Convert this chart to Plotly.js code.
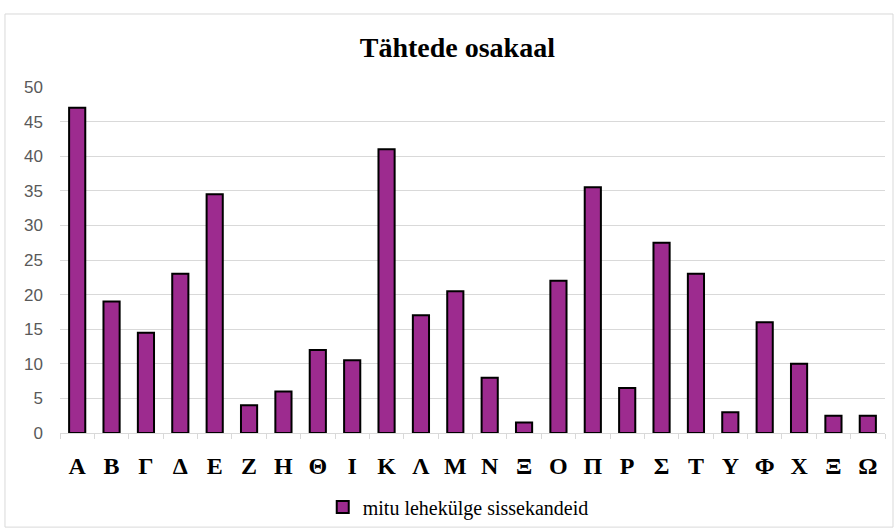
<!DOCTYPE html>
<html>
<head>
<meta charset="utf-8">
<script src="https://cdn.plot.ly/plotly-3.0.1.min.js"></script>
<style>html,body{margin:0;padding:0;background:#fff}#chart{width:895px;height:528px}</style>
</head>
<body>
<div id="chart"></div>
<script>
const letters = ["Α","Β","Γ","Δ","Ε","Ζ","Η","Θ","Ι","Κ","Λ","Μ","Ν","Ξ","Ο","Π","Ρ","Σ","Τ","Υ","Φ","Χ","Ξ","Ω"];
const pages = [47, 19, 14.5, 23, 34.5, 4, 6, 12, 10.5, 41, 17, 20.5, 8, 1.5, 22, 35.5, 6.5, 27.5, 23, 3, 16, 10, 2.5, 2.5];
const positions = letters.map((_, i) => i);
const seriesName = "mitu lehekülge sissekandeid";
const chartTitle = "Tähtede osakaal";
const yTicks = [0,5,10,15,20,25,30,35,40,45,50];

const trace = {
  type: "bar",
  x: positions,
  y: pages,
  name: seriesName,
  showlegend: true,
  marker: {color: "#9d2b8f", line: {color: "#000", width: 2}},
  hoverinfo: "y"
};

const layout = {
  width: 895, height: 528,
  margin: {l: 60, r: 10, t: 87, b: 95, autoexpand: false},
  paper_bgcolor: "#fff", plot_bgcolor: "#fff",
  title: {text: "<b>" + chartTitle + "</b>", x: 0.511, xref: "container", xanchor: "center",
          y: 0.911, yref: "container", yanchor: "middle",
          font: {family: "Liberation Serif, Times New Roman, serif", size: 28, color: "#000"}},
  bargap: 0.53,
  xaxis: {
    range: [-0.5, 23.5],
    tickmode: "array", tickvals: positions, ticktext: letters,
    ticks: "", ticklabelstandoff: 11,
    tickfont: {family: "Liberation Serif, Times New Roman, serif", size: 24, color: "#000", weight: "bold"},
    showgrid: false, zeroline: false,
    showline: true, linecolor: "#d9d9d9", linewidth: 1,
    minor: {tick0: 0.5, dtick: 1, ticks: "outside", ticklen: 5, tickcolor: "#d9d9d9", tickwidth: 1, showgrid: false}
  },
  yaxis: {
    range: [0, 50],
    tickmode: "array", tickvals: yTicks,
    ticks: "", ticklabelstandoff: 16,
    tickfont: {family: "Liberation Sans, Arial, sans-serif", size: 17, color: "#595959"},
    showgrid: true, gridcolor: "#d9d9d9", gridwidth: 1,
    zeroline: false, showline: false
  },
  legend: {
    orientation: "h", x: 0.512, xref: "container", xanchor: "center", y: 0.04, yref: "container", yanchor: "middle",
    font: {family: "Liberation Serif, Times New Roman, serif", size: 20, color: "#000"},
    itemwidth: 30, bgcolor: "rgba(0,0,0,0)"
  },
  shapes: [{
    type: "rect", xref: "paper", yref: "paper",
    x0: -0.0667, x1: 1.0097, y0: -0.272, y1: 1.211,
    line: {color: "#d9d9d9", width: 1}, fillcolor: "rgba(0,0,0,0)", layer: "below"
  }]
};

Plotly.newPlot("chart", [trace], layout, {displayModeBar: false, staticPlot: true});
</script>
</body>
</html>
